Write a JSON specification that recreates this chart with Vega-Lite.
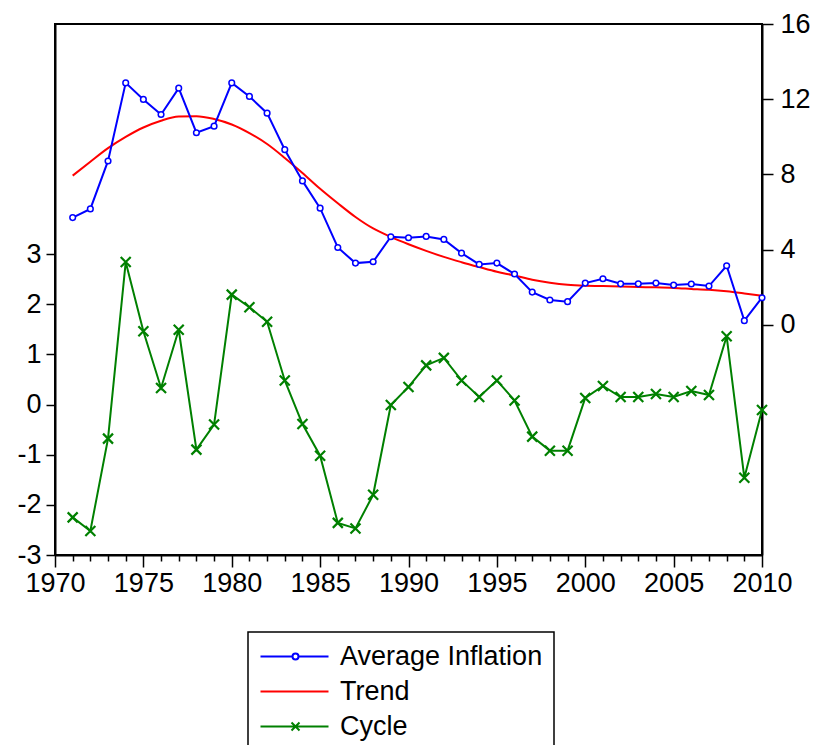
{
  "$schema": "https://vega.github.io/schema/vega-lite/v6.json",
  "width": 707,
  "height": 531,
  "autosize": {"type": "none"},
  "padding": {"left": 55, "top": 24, "right": 56, "bottom": 190},
  "background": "white",
  "config": {
    "view": {"stroke": "black", "strokeWidth": 2},
    "font": "Liberation Sans",
    "axis": {
      "labelFont": "Liberation Sans",
      "labelFontSize": 27,
      "labelColor": "black",
      "domainColor": "black",
      "domainWidth": 2,
      "tickColor": "black",
      "tickWidth": 1.5,
      "grid": false,
      "title": null
    },
    "axisX": {"labelOverlap": false, "labelFlush": false, "labelBound": false},
    "legend": {
      "labelFont": "Liberation Sans",
      "labelFontSize": 27,
      "labelColor": "black",
      "labelLimit": 500,
      "strokeColor": "black",
      "strokeWidth": 1.5
    }
  },
  "datasets": {
    "series": [
      {"year": 1971, "inflation": 5.71, "trend": 7.94, "cycle": -2.25},
      {"year": 1972, "inflation": 6.17, "trend": 8.68, "cycle": -2.52},
      {"year": 1973, "inflation": 8.72, "trend": 9.40, "cycle": -0.68},
      {"year": 1974, "inflation": 12.87, "trend": 10.0, "cycle": 2.84},
      {"year": 1975, "inflation": 11.99, "trend": 10.5, "cycle": 1.46},
      {"year": 1976, "inflation": 11.19, "trend": 10.86, "cycle": 0.33},
      {"year": 1977, "inflation": 12.59, "trend": 11.08, "cycle": 1.49},
      {"year": 1978, "inflation": 10.22, "trend": 11.1, "cycle": -0.90},
      {"year": 1979, "inflation": 10.57, "trend": 10.95, "cycle": -0.40},
      {"year": 1980, "inflation": 12.87, "trend": 10.66, "cycle": 2.19},
      {"year": 1981, "inflation": 12.15, "trend": 10.2, "cycle": 1.94},
      {"year": 1982, "inflation": 11.26, "trend": 9.62, "cycle": 1.65},
      {"year": 1983, "inflation": 9.32, "trend": 8.88, "cycle": 0.48},
      {"year": 1984, "inflation": 7.66, "trend": 8.08, "cycle": -0.39},
      {"year": 1985, "inflation": 6.21, "trend": 7.24, "cycle": -1.02},
      {"year": 1986, "inflation": 4.12, "trend": 6.47, "cycle": -2.36},
      {"year": 1987, "inflation": 3.29, "trend": 5.74, "cycle": -2.47},
      {"year": 1988, "inflation": 3.36, "trend": 5.13, "cycle": -1.80},
      {"year": 1989, "inflation": 4.69, "trend": 4.68, "cycle": -0.01},
      {"year": 1990, "inflation": 4.64, "trend": 4.29, "cycle": 0.35},
      {"year": 1991, "inflation": 4.71, "trend": 3.94, "cycle": 0.78},
      {"year": 1992, "inflation": 4.55, "trend": 3.62, "cycle": 0.93},
      {"year": 1993, "inflation": 3.82, "trend": 3.34, "cycle": 0.48},
      {"year": 1994, "inflation": 3.22, "trend": 3.08, "cycle": 0.15},
      {"year": 1995, "inflation": 3.29, "trend": 2.83, "cycle": 0.48},
      {"year": 1996, "inflation": 2.71, "trend": 2.63, "cycle": 0.08},
      {"year": 1997, "inflation": 1.75, "trend": 2.41, "cycle": -0.64},
      {"year": 1998, "inflation": 1.33, "trend": 2.25, "cycle": -0.92},
      {"year": 1999, "inflation": 1.24, "trend": 2.14, "cycle": -0.92},
      {"year": 2000, "inflation": 2.23, "trend": 2.09, "cycle": 0.13},
      {"year": 2001, "inflation": 2.46, "trend": 2.07, "cycle": 0.37},
      {"year": 2002, "inflation": 2.19, "trend": 2.04, "cycle": 0.15},
      {"year": 2003, "inflation": 2.19, "trend": 2.02, "cycle": 0.15},
      {"year": 2004, "inflation": 2.23, "trend": 2.0, "cycle": 0.21},
      {"year": 2005, "inflation": 2.12, "trend": 1.97, "cycle": 0.15},
      {"year": 2006, "inflation": 2.18, "trend": 1.92, "cycle": 0.27},
      {"year": 2007, "inflation": 2.07, "trend": 1.87, "cycle": 0.19},
      {"year": 2008, "inflation": 3.15, "trend": 1.79, "cycle": 1.36},
      {"year": 2009, "inflation": 0.23, "trend": 1.68, "cycle": -1.46},
      {"year": 2010, "inflation": 1.45, "trend": 1.56, "cycle": -0.11}
    ],
    "names": [
      {"series": "Average Inflation"},
      {"series": "Trend"},
      {"series": "Cycle"}
    ]
  },
  "layer": [
    {
      "data": {"name": "series"},
      "encoding": {
        "x": {
          "field": "year",
          "type": "quantitative",
          "scale": {"domain": [1970, 2010], "nice": false, "zero": false},
          "axis": {
            "values": [1970,1971,1972,1973,1974,1975,1976,1977,1978,1979,1980,1981,1982,1983,1984,1985,1986,1987,1988,1989,1990,1991,1992,1993,1994,1995,1996,1997,1998,1999,2000,2001,2002,2003,2004,2005,2006,2007,2008,2009,2010],
            "labelExpr": "datum.value % 5 === 0 ? '' + datum.value : ''",
            "tickSize": {"condition": {"test": "datum.value % 5 === 0", "value": 12}, "value": 6},
            "labelPadding": 3,
            "labelOverlap": false,
            "labelFlush": false
          }
        },
        "y": {
          "field": "cycle",
          "type": "quantitative",
          "scale": {"domain": [-3, 7.585], "nice": false, "zero": false},
          "axis": {
            "orient": "left",
            "values": [-3, -2, -1, 0, 1, 2, 3],
            "labelExpr": "'' + datum.value",
            "tickSize": 9,
            "labelPadding": 5
          }
        }
      },
      "layer": [
        {"mark": {"type": "line", "color": "#008000", "strokeWidth": 2}},
        {"mark": {"type": "point", "shape": "M-1,-1L1,1M-1,1L1,-1", "filled": false, "stroke": "#008000", "strokeWidth": 2.2, "size": 100, "opacity": 1}}
      ]
    },
    {
      "data": {"name": "series"},
      "encoding": {
        "x": {
          "field": "year",
          "type": "quantitative",
          "axis": {
            "values": [1970,1971,1972,1973,1974,1975,1976,1977,1978,1979,1980,1981,1982,1983,1984,1985,1986,1987,1988,1989,1990,1991,1992,1993,1994,1995,1996,1997,1998,1999,2000,2001,2002,2003,2004,2005,2006,2007,2008,2009,2010],
            "labelExpr": "datum.value % 5 === 0 ? '' + datum.value : ''",
            "tickSize": {"condition": {"test": "datum.value % 5 === 0", "value": 12}, "value": 6},
            "labelPadding": 3,
            "labelOverlap": false,
            "labelFlush": false
          }
        }
      },
      "layer": [
        {
          "mark": {"type": "line", "color": "#ff0000", "strokeWidth": 2, "interpolate": "monotone"},
          "encoding": {
            "y": {
              "field": "trend",
              "type": "quantitative",
              "scale": {"domain": [-12.226, 16], "nice": false, "zero": false},
              "axis": {
                "orient": "right",
                "values": [0, 4, 8, 12, 16],
                "tickSize": 11,
                "labelPadding": 7
              }
            }
          }
        },
        {
          "mark": {"type": "line", "color": "#0000ff", "strokeWidth": 2},
          "encoding": {"y": {"field": "inflation", "type": "quantitative"}}
        },
        {
          "mark": {"type": "point", "shape": "circle", "filled": true, "fill": "white", "stroke": "#0000ff", "strokeWidth": 1.5, "size": 32, "opacity": 1},
          "encoding": {"y": {"field": "inflation", "type": "quantitative"}}
        }
      ]
    },
    {
      "data": {"name": "names"},
      "mark": {"type": "point", "filled": false, "opacity": 0},
      "encoding": {
        "color": {
          "field": "series",
          "type": "nominal",
          "scale": {"domain": ["Average Inflation", "Trend", "Cycle"], "range": ["#0000ff", "#ff0000", "#008000"]},
          "legend": {
            "title": null,
            "orient": "none",
            "legendX": 193,
            "legendY": 608,
            "direction": "vertical",
            "symbolSize": 400,
            "symbolStrokeWidth": 2,
            "symbolOpacity": 1,
            "labelOffset": 54,
            "labelLimit": 500,
            "rowPadding": 7,
            "padding": 11,
            "strokeColor": "black"
          }
        },
        "shape": {
          "field": "series",
          "type": "nominal",
          "scale": {
            "domain": ["Average Inflation", "Trend", "Cycle"],
            "range": [
              "M-1.2,0H2.0M2.6,0H5.6M2.0,0A0.3,0.3 0 1,0 2.6,0A0.3,0.3 0 1,0 2.0,0",
              "M-1.2,0H5.6",
              "M-1.2,0H5.6M1.9,-0.4L2.7,0.4M1.9,0.4L2.7,-0.4"
            ]
          },
          "legend": {
            "title": null,
            "orient": "none",
            "legendX": 193,
            "legendY": 608,
            "direction": "vertical",
            "symbolSize": 400,
            "symbolStrokeWidth": 2,
            "symbolOpacity": 1,
            "labelOffset": 54,
            "labelLimit": 500,
            "rowPadding": 7,
            "padding": 11,
            "strokeColor": "black"
          }
        }
      }
    }
  ],
  "resolve": {"scale": {"y": "independent"}}
}
